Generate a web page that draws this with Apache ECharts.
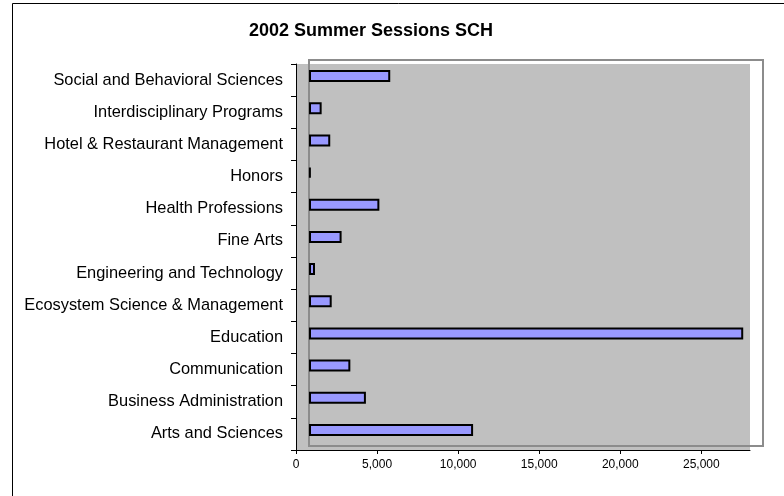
<!DOCTYPE html>
<html>
<head>
<meta charset="utf-8">
<title>2002 Summer Sessions SCH</title>
<script src="https://cdn.jsdelivr.net/npm/echarts@6/dist/echarts.min.js"></script>
<style>
  html, body { margin: 0; padding: 0; background: #fff; }
  #chart { width: 784px; height: 496px; }
</style>
</head>
<body>
<div id="chart"></div>
<script>
  // colleges, listed bottom to top
  const colleges = [
    'Arts and Sciences',
    'Business Administration',
    'Communication',
    'Education',
    'Ecosystem Science & Management',
    'Engineering and Technology',
    'Fine Arts',
    'Health Professions',
    'Honors',
    'Hotel & Restaurant Management',
    'Interdisciplinary Programs',
    'Social and Behavioral Sciences'
  ]
  // student credit hours
  const sch = [10120, 3510, 2550, 26780, 1400, 370, 2010, 4340, 110, 1310, 780, 5010]
  const xTicks = [0, 5000, 10000, 15000, 20000, 25000]
  const xMax = 28000

  const chart = echarts.init(document.getElementById('chart'))

  const option = {
    backgroundColor: '#fff',
    animation: false,
    title: {
      text: '2002 Summer Sessions SCH',
      left: 244,
      top: 17,
      textStyle: {
        fontFamily: 'Liberation Sans, Arial, sans-serif',
        fontSize: 18,
        fontWeight: 'bold',
        color: '#000'
      }
    },
    graphic: [
      {
        // outer chart border
        type: 'rect',
        shape: { x: 12.5, y: 3.5, width: 800, height: 520 },
        style: { fill: null, stroke: '#000', lineWidth: 1 },
        silent: true
      }
    ],
    grid: [
      // front wall with the visible axes
      {
        left: 296, right: 34, top: 64, bottom: 46,
        show: true,
        backgroundColor: '#c0c0c0',
        borderWidth: 0
      },
      // back wall outline, bars are drawn here
      {
        left: 309, right: 21, top: 60, bottom: 50,
        show: true,
        z: 1,
        backgroundColor: 'transparent',
        borderColor: '#8c8c8c',
        borderWidth: 2
      }
    ],
    xAxis: [
      {
        type: 'value',
        gridIndex: 0,
        min: 0,
        max: xMax,
        interval: 5000,
        splitLine: { show: false },
        axisLine: { show: true, lineStyle: { color: '#000', width: 1 } },
        axisTick: {
          show: true,
          length: 4,
          customValues: xTicks,
          lineStyle: { color: '#000' }
        },
        axisLabel: {
          customValues: xTicks,
          margin: 9,
          fontFamily: 'Liberation Sans, Arial, sans-serif',
          fontSize: 12,
          color: '#000',
          formatter: (v) => v.toLocaleString('en-US')
        }
      },
      {
        type: 'value',
        gridIndex: 1,
        min: 0,
        max: xMax,
        show: false,
        splitLine: { show: false }
      }
    ],
    yAxis: [
      {
        type: 'category',
        gridIndex: 0,
        data: colleges,
        axisLine: { show: true, lineStyle: { color: '#000', width: 1 } },
        axisTick: { show: true, length: 5, lineStyle: { color: '#000' } },
        axisLabel: {
          margin: 13,
          fontFamily: 'Liberation Sans, Arial, sans-serif',
          fontSize: 16.4,
          color: '#000'
        }
      },
      {
        type: 'category',
        gridIndex: 1,
        data: colleges,
        show: false
      }
    ],
    series: [
      {
        type: 'bar',
        xAxisIndex: 1,
        yAxisIndex: 1,
        data: sch,
        barWidth: 12,
        z: 3,
        itemStyle: {
          color: '#9999ff',
          borderColor: '#000',
          borderWidth: 2
        }
      }
    ]
  }

  chart.setOption(option)
</script>
</body>
</html>
